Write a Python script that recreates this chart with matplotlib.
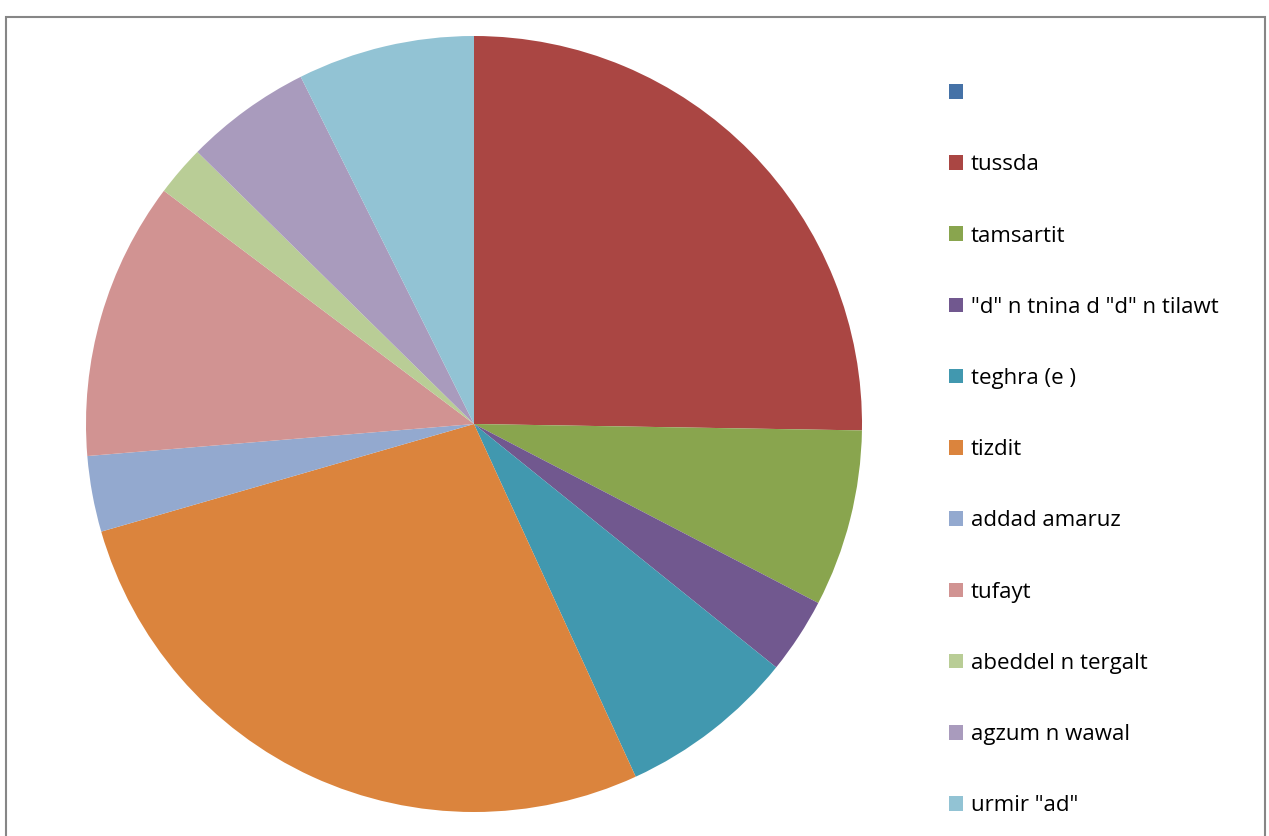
import matplotlib.pyplot as plt
from matplotlib.patches import Rectangle

# Data (counts, clockwise from 12 o'clock)
labels = ["", "tussda", "tamsartit", '"d" n tnina d "d" n tilawt', "teghra (e )",
          "tizdit", "addad amaruz", "tufayt", "abeddel n tergalt", "agzum n wawal",
          'urmir "ad"']
values = [0, 24, 7, 3, 7, 26, 3, 11, 2, 5, 7]
colors = ["#4572A7", "#AA4643", "#89A54E", "#71588F", "#4198AF", "#DB843D",
          "#93A9CF", "#D19392", "#B9CD96", "#A99BBD", "#92C3D4"]

W, H = 1269, 836
fig = plt.figure(figsize=(W / 100, H / 100), dpi=100)

# outer chart frame
fig.patches.append(Rectangle((6 / W, -0.05), (1265 - 6) / W, 1.05 - 17 / H,
                             transform=fig.transFigure, fill=False,
                             edgecolor="#868686", linewidth=1.5))

cx, cy, r = 474, 424, 388
ax = fig.add_axes([(cx - r) / W, (H - cy - r) / H, 2 * r / W, 2 * r / H])
wedges, _ = ax.pie(values, colors=colors, startangle=90, counterclock=False,
                   radius=1, wedgeprops=dict(linewidth=0))
for w in wedges:
    w.set_clip_on(False)
ax.set_xlim(-1, 1)
ax.set_ylim(-1, 1)
ax.set_aspect("equal")
ax.axis("off")

fs = 16
leg = fig.legend(wedges, labels, loc="upper left",
                 bbox_to_anchor=(938 / W, 1 - 72 / H), frameon=False,
                 handlelength=0.63, handleheight=0.63,
                 handletextpad=0.36, labelspacing=2.26, borderpad=0,
                 prop={"family": "Open Sans", "size": fs})

plt.savefig("out.png", dpi=100)
